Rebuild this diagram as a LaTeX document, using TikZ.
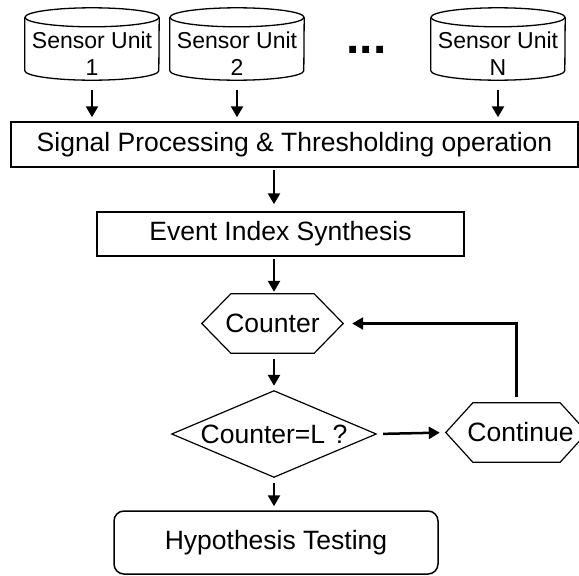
\documentclass[tikz,border=0pt]{standalone}
\usepackage{fontspec}
\setmainfont{Liberation Sans}
\usetikzlibrary{arrows.meta}
\begin{document}
\begin{tikzpicture}[x=1pt,y=1pt,
  txt/.style={font=\fontsize{26.5}{30}\selectfont},
  box/.style={draw, line width=1.5pt, inner sep=0pt, txt},
  shp/.style={inner sep=0pt, txt},
  shpline/.style={line width=1.2pt, line join=miter},
  cyl/.style={inner sep=0pt, minimum width=134pt, minimum height=53pt, align=center,
              font=\fontsize{23}{27}\selectfont},
  cylline/.style={line width=1.3pt},
  arr/.style={line width=2.5pt, -{Triangle[width=12pt,length=11pt]}}]
\useasboundingbox (0,0) rectangle (579,-576);
\clip (0,0) rectangle (579,-576);

% sensor units (cylinders)
\foreach \n/\x/\t in {s1/92/1, s2/237/2, sN/498/N} {
  \node[cyl] (\n) at (\x,-53.5) {Sensor Unit\\\t};
  \draw[cylline] ([yshift=9.5pt]\n.north west) -- ([yshift=9.5pt]\n.south west)
     arc[start angle=180, end angle=360, x radius=67pt, y radius=9.5pt]
     -- ([yshift=9.5pt]\n.north east);
  \draw[cylline] ([yshift=9.5pt]\n.north) ellipse[x radius=67pt, y radius=9.5pt];
}
\node[font=\fontsize{48}{48}\selectfont\bfseries, anchor=base, inner sep=0pt] (dots) at (366.5,-53.5) {...};

% boxes
\node[box, minimum width=567pt, minimum height=45pt] (sp) at (294.5,-144.5) {Signal Processing \& Thresholding operation};
\node[box, minimum width=367pt, minimum height=44pt] (ev) at (280.5,-234) {Event Index Synthesis};

% counter hexagon
\node[shp, minimum width=141pt, minimum height=59pt] (cnt) at (272.5,-323.5) {Counter};
\draw[shpline] (cnt.west) -- ([xshift=29pt]cnt.north west) -- ([xshift=-29pt]cnt.north east)
   -- (cnt.east) -- ([xshift=-29pt]cnt.south east) -- ([xshift=29pt]cnt.south west) -- cycle;

% decision diamond
\node[shp, minimum width=204pt, minimum height=86pt] (dia) at (274,-434) {\raisebox{-3pt}{Counter=L ?}};
\draw[shpline] (dia.north) -- (dia.east) -- (dia.south) -- (dia.west) -- cycle;

% continue hexagon
\node[shp, minimum width=141pt, minimum height=59pt] (cont) at (516.5,-432.5) {\hspace*{8pt}Continue};
\draw[shpline] (cont.west) -- ([xshift=27pt]cont.north west) -- ([xshift=-27pt]cont.north east)
   -- (cont.east) -- ([xshift=-27pt]cont.south east) -- ([xshift=27pt]cont.south west) -- cycle;

% hypothesis testing
\node[box, rounded corners=10pt, minimum width=324pt, minimum height=63pt] (hyp) at (276,-542.5) {Hypothesis Testing};

% connectors
\foreach \n in {s1,s2,sN}
  \draw[arr, shorten <=10pt, shorten >=4pt] (\n.south) -- (\n.south |- sp.north);
\draw[arr, shorten <=2pt, shorten >=7pt] (sp.south -| dia) -- (ev.north -| dia);
\draw[arr, shorten <=2pt, shorten >=2pt] (ev.south -| dia) -- (cnt.north -| dia);
\draw[arr, shorten <=6pt, shorten >=5pt] (cnt.south -| dia) -- (dia.north);
\draw[arr, shorten <=7pt, shorten >=6pt] (dia.east) -- (cont.west);
\draw[arr, shorten <=6pt, shorten >=9pt] (cont.north) |- (cnt.east);
\draw[arr, shorten <=6pt, shorten >=4pt] (dia.south) -- (hyp.north -| dia);
\end{tikzpicture}
\end{document}
